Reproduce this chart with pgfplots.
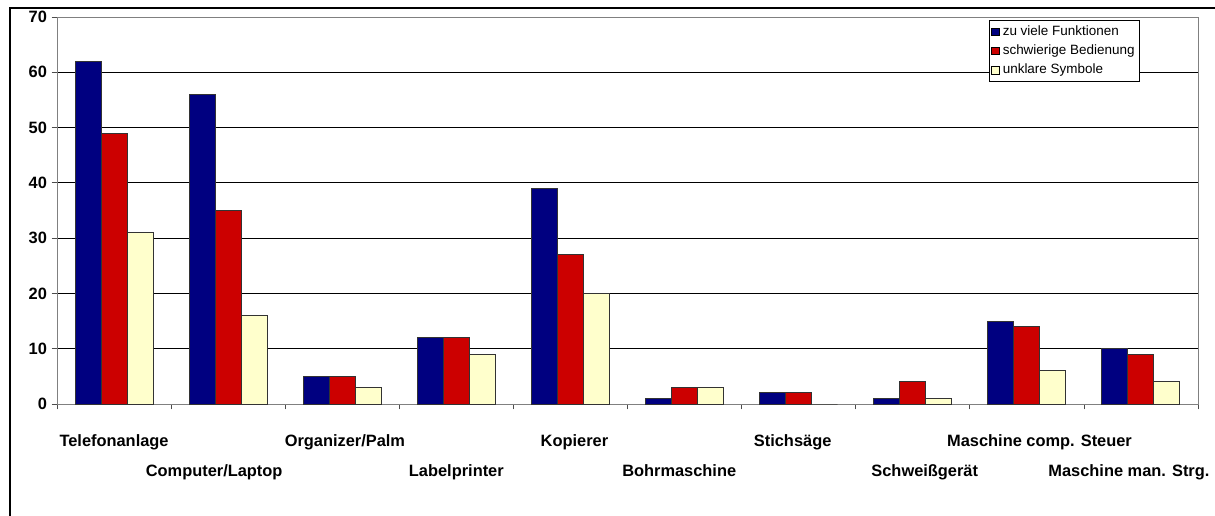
\documentclass[border=0pt]{standalone}
\usepackage{pgfplots}
\pgfplotsset{compat=1.18}
\usepackage{fontspec}
\setmainfont{Liberation Sans}

\definecolor{navy}{RGB}{0,0,128}
\definecolor{xlred}{RGB}{204,0,0}
\definecolor{pale}{RGB}{255,255,204}

% category label: horizontal offset, vertical offset, text
\newcommand{\lab}[3]{\raisebox{#2}{\makebox[0pt][c]{\hspace*{#1}\hspace*{#1}#3}}}

\begin{document}
\begin{tikzpicture}[x=0.75pt,y=0.75pt]
\useasboundingbox (-57,-111) rectangle (1158,404);
\draw[line width=2.2pt] (-47,-112) -- (-47,396) -- (1160,396);
\begin{axis}[
    at={(0,0)}, anchor=south west,
    scale only axis,
    width=855.75pt, height=290.25pt,
    ybar=0pt, bar width=19.5pt,
    xmin=0, xmax=10, ymin=0, ymax=70,
    ytick={0,10,...,70},
    xtick={0,...,10}, xticklabels={},
    extra x ticks={0.5,1.5,...,9.5},
    extra x tick labels={
        \lab{0pt}{0pt}{Telefonanlage},
        \lab{-10.5pt}{-22.5pt}{Computer/Laptop},
        \lab{2pt}{0pt}{Organizer/Palm},
        \lab{0pt}{-22.5pt}{Labelprinter},
        \lab{3pt}{0pt}{Kopierer},
        \lab{-4pt}{-22.5pt}{Bohrmaschine},
        \lab{-4.5pt}{0pt}{Stichsäge},
        \lab{9pt}{-22.5pt}{Schweißgerät},
        \lab{9.5pt}{0pt}{Maschine comp. Steuer},
        \lab{-9pt}{-22.5pt}{Maschine man. Strg.}},
    extra x tick style={major tick length=0pt, xmajorgrids=false,
        xticklabel style={anchor=base, yshift=-32pt}},
    tick pos=left, tick align=outside,
    major tick length=4pt,
    tick style={black!70, line width=0.6pt},
    axis line style={black!50, line width=0.6pt},
    ymajorgrids,
    grid style={black, line width=0.6pt},
    ticklabel style={font=\fontsize{12.3}{14}\selectfont\bfseries},
    /pgf/number format/assume math mode=true,
    legend style={at={(0.949,0.992)}, anchor=north east, draw=black, line width=0.5pt,
        font=\fontsize{10.1}{12}\selectfont, row sep=0pt,
        inner sep=1.5pt,
        nodes={text height=8pt, text depth=2.5pt, inner ysep=1.9pt, inner xsep=2.2pt}},
    legend cell align=left,
    legend image code/.code={\draw[#1,draw=black,line width=0.6pt] (2.5pt,-2.9pt) rectangle (8.3pt,2.9pt);},
]
\addplot[fill=navy, draw=black!80, line width=0.75pt] coordinates {
(0.5,62) (1.5,56) (2.5,5) (3.5,12) (4.5,39) (5.5,1) (6.5,2) (7.5,1) (8.5,15) (9.5,10)};
\addlegendentry{zu viele Funktionen}
\addplot[fill=xlred, draw=black!80, line width=0.75pt] coordinates {
(0.5,49) (1.5,35) (2.5,5) (3.5,12) (4.5,27) (5.5,3) (6.5,2) (7.5,4) (8.5,14) (9.5,9)};
\addlegendentry{schwierige Bedienung}
\addplot[fill=pale, draw=black!80, line width=0.75pt] coordinates {
(0.5,31) (1.5,16) (2.5,3) (3.5,9) (4.5,20) (5.5,3) (6.5,0) (7.5,1) (8.5,6) (9.5,4)};
\addlegendentry{unklare Symbole}
\end{axis}
\end{tikzpicture}
\end{document}
